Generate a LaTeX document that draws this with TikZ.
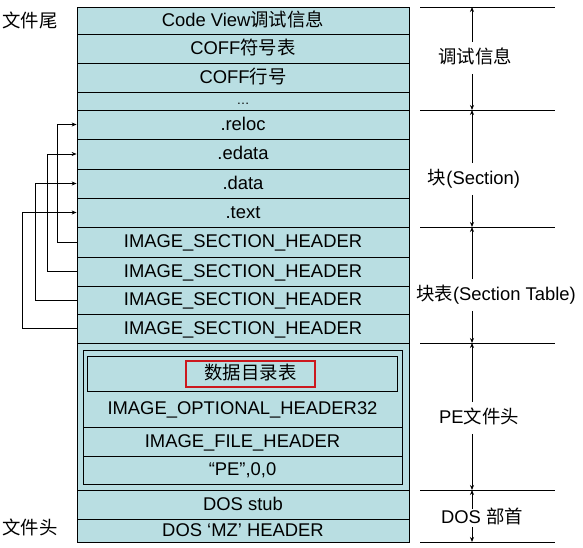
\documentclass[tikz,border=0pt]{standalone}
\usepackage{fontspec}
\setmainfont{Liberation Sans}
\newfontfamily\cjk{Noto Sans CJK SC}
\usepackage{xcolor}
\usepackage{tikz}
\usetikzlibrary{positioning,arrows.meta}
\definecolor{peblue}{RGB}{185,222,226}
\definecolor{markred}{RGB}{204,24,30}
\newcommand{\zh}[1]{{\cjk #1}}

\begin{document}
\begin{tikzpicture}[x=1pt, y=-1pt]
\tikzset{
  txt/.style={inner sep=0pt, text height=13.5pt, text depth=2pt,
    font=\fontsize{18.4}{20}\selectfont},
  row/.style={txt, rectangle, draw=black, line width=0.8pt, fill=peblue,
    minimum width=332pt},
  box/.style={txt, rectangle, draw=black, line width=0.8pt, fill=peblue},
  redbox/.style={txt, rectangle, draw=markred, line width=2pt},
  side/.style={txt, inner ysep=8pt},
  link/.style={->, line width=0.8pt, >={Stealth[length=5pt,width=4pt]}},
  vline/.style={->, line width=0.8pt, >={Stealth[length=5pt,width=4pt]}},
  divline/.style={line width=0.8pt}
}
\useasboundingbox (0,0) rectangle (583,548);
% file layout, top = end of file
\node[row, minimum height=27pt] (cv)    at (243,20.5)  {Code View\zh{调试信息}};
\node[row, minimum height=29pt] (sym)   at (243,48.5)  {COFF\zh{符号表}};
\node[row, minimum height=29pt] (lnum)  at (243,77.5)  {COFF\zh{行号}};
\node[row, minimum height=18pt, font=\fontsize{13}{14}\selectfont, text height=7pt, text depth=0pt] (dots) at (243,101) {…};
\node[row, minimum height=29pt] (reloc) at (243,124.5) {.reloc};
\node[row, minimum height=30pt] (edata) at (243,154)   {.edata};
\node[row, minimum height=29pt] (data)  at (243,183.5) {.data};
\node[row, minimum height=29pt] (text)  at (243,212.5) {.text};
\node[row, minimum height=30pt] (sh1)   at (243,242)   {IMAGE\_SECTION\_HEADER};
\node[row, minimum height=29pt] (sh2)   at (243,271.5) {IMAGE\_SECTION\_HEADER};
\node[row, minimum height=28pt] (sh3)   at (243,300)   {IMAGE\_SECTION\_HEADER};
\node[row, minimum height=29pt] (sh4)   at (243,328.5) {IMAGE\_SECTION\_HEADER};
\node[row, minimum height=147pt] (pe)   at (243,416.5) {};
\node[row, minimum height=29pt] (stub)  at (243,504.5) {DOS stub};
\node[row, minimum height=23pt] (mz)    at (243,530.5) {DOS ‘MZ’ HEADER};
% PE header inside
\node[box, minimum width=319pt, minimum height=134pt] (pein) at (242.5,417) {};
\node[box, minimum width=310pt, minimum height=35pt] (dir)   at (242,373.5) {};
\node[redbox, minimum width=129pt, minimum height=26pt] (dirname) at (250.5,374) {\zh{数据目录表}};
\node[txt] (opt) at (242.5,409) {IMAGE\_OPTIONAL\_HEADER32};
\node[box, minimum width=319pt, minimum height=29pt] (fhdr) at (242.5,441.5) {IMAGE\_FILE\_HEADER};
\node[box, minimum width=319pt, minimum height=28pt] (sig)  at (242.5,470) {“PE”,0,0};
% section headers point to sections
\draw[link] (sh1.west) -- ++(-19,0) |- (reloc.west);
\draw[link] (sh2.west) -- ++(-29,0) |- (edata.west);
\draw[link] (sh3.west) -- ++(-41,0) |- (data.west);
\draw[link] (sh4.west) -- ++(-54,0) |- (text.west);
% left labels
\node[txt] (tail) at (30,22)  {\zh{文件尾}};
\node[txt] (head) at (30,529) {\zh{文件头}};
% right side brackets
\coordinate (b0) at (420,7);
\coordinate (b1) at (420,110);
\coordinate (b2) at (420,227);
\coordinate (b3) at (420,343);
\coordinate (b4) at (420,490);
\coordinate (b5) at (420,542);
\foreach \b in {b0,b1,b2,b3,b4,b5}
  \draw[divline] (\b) -- ++(135,0);
\coordinate (ax) at (472,0);
\node[side] (dbg)  at (475,58)  {\zh{调试信息}};
\node[side] (sec)  at (474,179) {\zh{块}(Section)};
\node[side] (stab) at (496,295) {\zh{块表}(Section Table)};
\node[side] (pehd) at (479,418) {PE\zh{文件头}};
\node[side, inner ysep=1pt] (dos) at (482,518) {DOS \zh{部首}};
\draw[vline] (ax |- dbg.north) -- (ax |- b0);
\draw[vline] (ax |- dbg.south) -- (ax |- b1);
\draw[vline] (ax |- sec.north) -- (ax |- b1);
\draw[vline] (ax |- sec.south) -- (ax |- b2);
\draw[vline] (ax |- stab.north) -- (ax |- b2);
\draw[vline] (ax |- stab.south) -- (ax |- b3);
\draw[vline] (ax |- pehd.north) -- (ax |- b3);
\draw[vline] (ax |- pehd.south) -- (ax |- b4);
\draw[vline] (ax |- dos.north) -- (ax |- b4);
\draw[vline] (ax |- dos.south) -- (ax |- b5);
\end{tikzpicture}
\end{document}
